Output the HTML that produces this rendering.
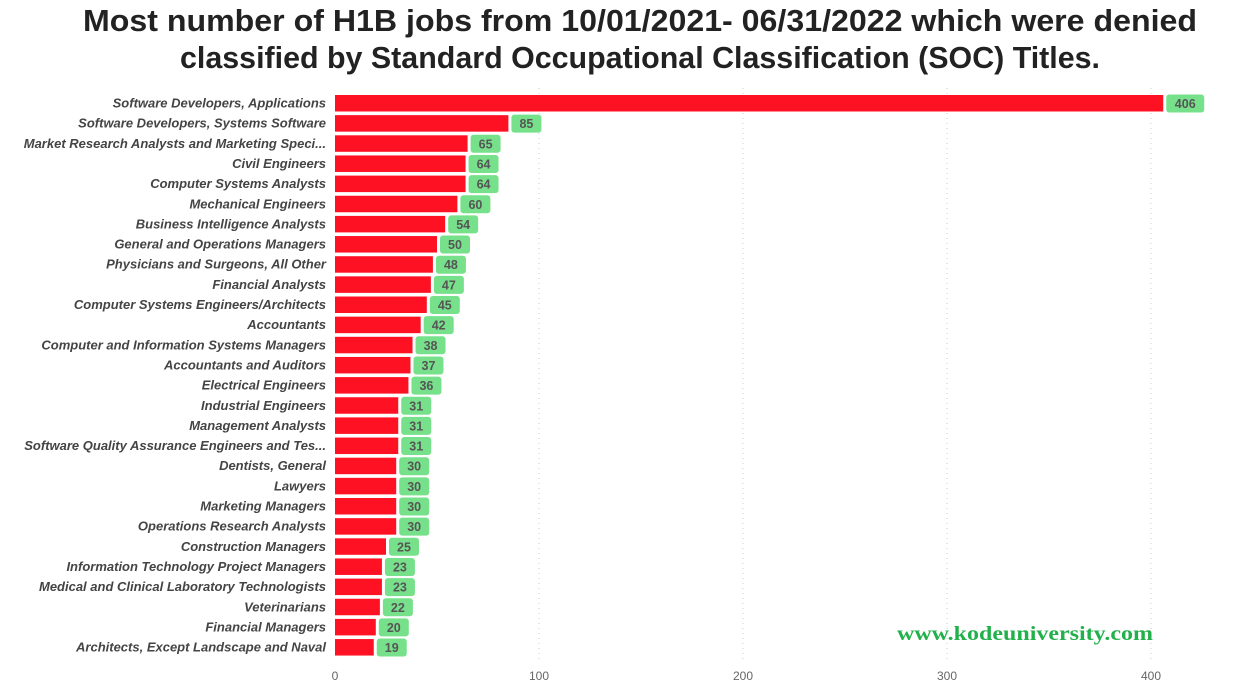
<!DOCTYPE html>
<html><head><meta charset="utf-8"><style>
body{margin:0;background:#fff;width:1238px;height:691px;overflow:hidden}
svg{display:block}
</style></head><body>
<svg id="chart" width="1238" height="691" xmlns="http://www.w3.org/2000/svg">
<text x="640" y="31" text-anchor="middle" textLength="1114" lengthAdjust="spacingAndGlyphs" font-family="Liberation Sans, sans-serif" font-weight="bold" font-size="31" fill="#222">Most number of H1B jobs from 10/01/2021- 06/31/2022 which were denied</text>
<text x="640" y="68" text-anchor="middle" textLength="920" lengthAdjust="spacingAndGlyphs" font-family="Liberation Sans, sans-serif" font-weight="bold" font-size="31" fill="#222">classified by Standard Occupational Classification (SOC) Titles.</text>
<g id="grid"></g><g id="bars"></g><g id="xticks"></g>
<text x="1025" y="640" text-anchor="middle" textLength="256" lengthAdjust="spacingAndGlyphs" font-family="Liberation Serif, serif" font-weight="bold" font-size="20" fill="#22b04a">www.kodeuniversity.com</text>
</svg>
<script>
const categories=["Software Developers, Applications","Software Developers, Systems Software","Market Research Analysts and Marketing Speci...","Civil Engineers","Computer Systems Analysts","Mechanical Engineers","Business Intelligence Analysts","General and Operations Managers","Physicians and Surgeons, All Other","Financial Analysts","Computer Systems Engineers/Architects","Accountants","Computer and Information Systems Managers","Accountants and Auditors","Electrical Engineers","Industrial Engineers","Management Analysts","Software Quality Assurance Engineers and Tes...","Dentists, General","Lawyers","Marketing Managers","Operations Research Analysts","Construction Managers","Information Technology Project Managers","Medical and Clinical Laboratory Technologists","Veterinarians","Financial Managers","Architects, Except Landscape and Naval"];
const values=[406,85,65,64,64,60,54,50,48,47,45,42,38,37,36,31,31,31,30,30,30,30,25,23,23,22,20,19];
const ticks=[0,100,200,300,400];
const NS="http://www.w3.org/2000/svg";
const x0=335,scale=(1151-335)/400;
const xs=v=>x0+v*scale;
const ys=i=>95+i*20.15;
function mk(tag,attrs,parent,text){const e=document.createElementNS(NS,tag);for(const k in attrs)e.setAttribute(k,attrs[k]);if(text!==undefined)e.textContent=text;parent.appendChild(e);return e;}
const grid=document.getElementById('grid'),bars=document.getElementById('bars'),xt=document.getElementById('xticks');
ticks.forEach(t=>{
 if(t>0){const l=mk('line',{x1:xs(t),x2:xs(t),y1:88,y2:660,stroke:'#ccc','stroke-dasharray':'1,4'},grid);
 
 }
 const tx=mk('text',{x:xs(t),y:680,'text-anchor':'middle','font-family':'Liberation Sans, sans-serif','font-size':12,fill:'#666'},xt,String(t));
 
 
});
categories.forEach((c,i)=>{
 const y=ys(i),v=values[i];
 const lab=mk('text',{x:326,y:y+12.5,'text-anchor':'end','font-family':'Liberation Sans, sans-serif','font-size':13,'font-style':'italic','font-weight':'bold',fill:'#444'},bars,c);
 
 
 const r=mk('rect',{x:x0,y:y,width:xs(v)-x0,height:16.5,fill:'#ff1124'},bars);
 
 
 const s=String(v),w=s.length*8+14;
 const b=mk('rect',{x:xs(v)+3,y:y-0.5,width:w,height:18,rx:3,fill:'#77e08a'},bars);
 
 
 const vt=mk('text',{x:xs(v)+3+w/2,y:y+13,'text-anchor':'middle','font-family':'Liberation Sans, sans-serif','font-size':12.5,'font-weight':'bold',fill:'#555'},bars,s);
 
 
});
</script>
</body></html>
